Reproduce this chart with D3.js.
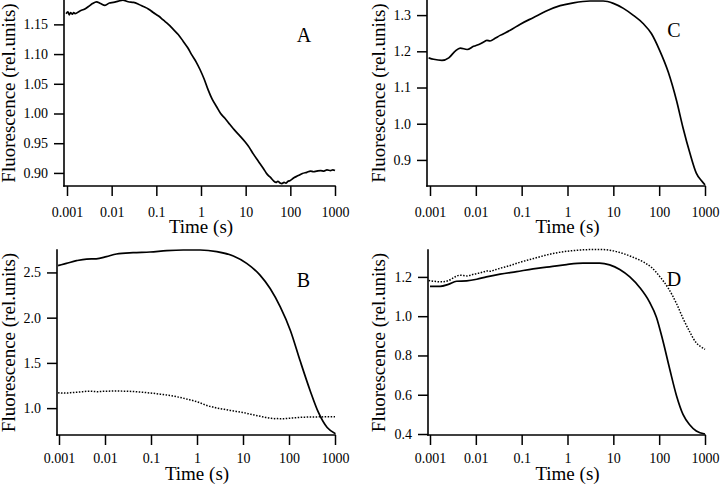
<!DOCTYPE html>
<html><head><meta charset="utf-8">
<script src="https://cdn.jsdelivr.net/npm/d3@7"></script>
</head><body style="margin:0">
<svg id="chart" width="720" height="488" font-family="Liberation Serif"></svg>
<script>
// ---- data (time given as log10 of seconds) ----
const xTicks = [0.001, 0.01, 0.1, 1, 10, 100, 1000];
const xTickLabels = ["0.001", "0.01", "0.1", "1", "10", "100", "1000"];

const yTicksA = [0.90, 0.95, 1.00, 1.05, 1.10, 1.15];
const yTicksB = [1.0, 1.5, 2.0, 2.5];
const yTicksC = [0.9, 1.0, 1.1, 1.2, 1.3];
const yTicksD = [0.4, 0.6, 0.8, 1.0, 1.2];

// Trace A (also dotted trace in B)
const logTimeA = [-3.02,-2.98,-2.95,-2.92,-2.88,-2.85,-2.82,-2.71,-2.60,-2.52,-2.43,-2.34,-2.25,-2.15,-2.05,-1.96,-1.85,-1.75,-1.63,-1.51,-1.40,-1.29,-1.18,-1.07,-0.95,-0.84,-0.73,-0.62,-0.51,-0.40,-0.30,-0.21,-0.11,-0.02,0.07,0.16,0.25,0.35,0.44,0.54,0.63,0.72,0.85,0.99,1.08,1.17,1.28,1.40,1.46,1.51,1.56,1.62,1.68,1.72,1.77,1.81,1.86,1.90,1.95,1.99,2.08,2.18,2.27,2.37,2.45,2.52,2.59,2.68,2.75,2.82,2.90,2.95,3.0];
const fluorA = [1.168,1.171,1.166,1.170,1.167,1.170,1.168,1.1726,1.176,1.180,1.185,1.188,1.185,1.182,1.186,1.187,1.189,1.1907,1.188,1.187,1.184,1.180,1.176,1.170,1.164,1.157,1.150,1.1415,1.133,1.1217,1.111,1.099,1.087,1.0736,1.058,1.0397,1.024,1.0114,1.000,0.9916,0.983,0.9747,0.964,0.952,0.943,0.932,0.920,0.907,0.900,0.8955,0.892,0.887,0.884,0.886,0.883,0.882,0.884,0.883,0.886,0.887,0.892,0.8955,0.899,0.901,0.903,0.902,0.903,0.904,0.903,0.905,0.904,0.905,0.904];

// Trace B (solid)
const logTimeB = [-3.02,-2.95,-2.84,-2.62,-2.40,-2.19,-1.97,-1.75,-1.39,-1.02,-0.66,-0.30,0.07,0.43,0.79,1.08,1.37,1.59,1.81,2.03,2.24,2.46,2.64,2.83,3.01];
const fluorB = [2.575,2.585,2.60,2.63,2.648,2.650,2.674,2.704,2.719,2.726,2.741,2.748,2.748,2.73,2.681,2.60,2.47,2.322,2.119,1.859,1.526,1.193,0.952,0.785,0.718];

// Trace C (also dotted trace in D)
const logTimeC = [-3.03,-2.92,-2.74,-2.59,-2.45,-2.34,-2.19,-2.05,-1.90,-1.80,-1.76,-1.69,-1.58,-1.47,-1.25,-1.03,-0.74,-0.45,-0.16,0.13,0.49,0.78,1.0,1.22,1.43,1.65,1.83,2.01,2.20,2.38,2.52,2.67,2.81,2.92,3.0];
const fluorC = [1.182,1.178,1.175,1.182,1.2007,1.209,1.205,1.2137,1.221,1.228,1.2304,1.2285,1.236,1.244,1.258,1.275,1.2935,1.312,1.326,1.334,1.339,1.339,1.3325,1.3186,1.30,1.2768,1.249,1.2026,1.142,1.0633,0.989,0.919,0.8638,0.843,0.8313];

// Trace D (solid)
const logTimeD = [-3.0,-2.78,-2.60,-2.42,-2.20,-1.98,-1.77,-1.47,-1.11,-0.75,-0.39,-0.02,0.34,0.70,0.92,1.14,1.36,1.58,1.79,1.94,2.08,2.23,2.38,2.52,2.67,2.81,3.0];
const fluorD = [1.152,1.152,1.162,1.178,1.18,1.188,1.20,1.214,1.227,1.241,1.251,1.263,1.27,1.27,1.261,1.238,1.20,1.145,1.072,0.995,0.876,0.731,0.594,0.50,0.446,0.415,0.40];

// ---- layout ----
const FONT = "Liberation Serif";
const panels = [
  {letter:"A", ax:64, top:0, bottom:186, x0:67, x1:335, yDomain:[0.878,1.191], yTicks:yTicksA, fmt:".2f",
   series:[{t:logTimeA, v:fluorA, dotted:false}], letterX:304, letterY:42, titleX:15, xPad:11, timeY:233},
  {letter:"C", ax:427, top:0, bottom:186, x0:430, x1:705, yDomain:[0.828,1.3417], yTicks:yTicksC, fmt:".1f",
   series:[{t:logTimeC, v:fluorC, dotted:false}], letterX:674, letterY:37, titleX:385, xPad:11, timeY:233},
  {letter:"B", ax:57, top:250, bottom:435, x0:59, x1:335, yDomain:[0.703,2.748], yTicks:yTicksB, fmt:".1f",
   series:[{t:logTimeB, v:fluorB, dotted:false},{t:logTimeA, v:fluorA, dotted:true}], letterX:303.5, letterY:286.5, titleX:15, xPad:8, timeY:480},
  {letter:"D", ax:428, top:250, bottom:435, x0:430, x1:705, yDomain:[0.395,1.337], yTicks:yTicksD, fmt:".1f",
   series:[{t:logTimeD, v:fluorD, dotted:false},{t:logTimeC, v:fluorC, dotted:true}], letterX:674, letterY:286, titleX:385, xPad:8, timeY:480}
];

const svg = d3.select("#chart");
svg.append("rect").attr("width",720).attr("height",488).attr("fill","#fff");

panels.forEach(p => {
  const g = svg.append("g").attr("font-family", FONT);
  const x = d3.scaleLog().domain([0.001, 1000]).range([p.x0, p.x1]);
  const y = d3.scaleLinear().domain(p.yDomain).range([p.bottom, p.top]);

  p.series.forEach(s => {
    const pts = s.t.map((t, i) => [Math.pow(10, t), s.v[i]]);
    g.append("path")
      .datum(pts)
      .attr("fill", "none")
      .attr("stroke", "#000")
      .attr("stroke-width", s.dotted ? 1.5 : 1.7)
      .attr("stroke-dasharray", s.dotted ? "1.5,1.5" : null)
      .attr("stroke-linejoin", "round")
      .attr("d", d3.line().x(d => x(d[0])).y(d => y(d[1])).curve(d3.curveMonotoneX));
  });

  const xa = g.append("g").attr("transform", `translate(0,${p.bottom})`)
    .call(d3.axisBottom(x).tickValues(xTicks).tickFormat((d, i) => xTickLabels[i])
      .tickSize(10).tickSizeOuter(0).tickPadding(p.xPad));
  xa.attr("font-family", FONT).attr("font-size", 14);
  xa.select(".domain").remove();
  xa.selectAll(".tick line").attr("stroke", "#000").attr("stroke-width", 1.5);
  xa.selectAll(".tick text").attr("fill", "#000").attr("font-family", FONT).attr("font-size", 14);

  const ya = g.append("g").attr("transform", `translate(${p.ax},0)`)
    .call(d3.axisLeft(y).tickValues(p.yTicks).tickFormat(d3.format(p.fmt))
      .tickSize(10).tickSizeOuter(0).tickPadding(6));
  ya.attr("font-family", FONT).attr("font-size", 14);
  ya.select(".domain").remove();
  ya.selectAll(".tick line").attr("stroke", "#000").attr("stroke-width", 1.5);
  ya.selectAll(".tick text").attr("fill", "#000").attr("font-family", FONT).attr("font-size", 14);

  g.append("line").attr("x1", p.ax).attr("x2", p.ax).attr("y1", p.top).attr("y2", p.bottom)
    .attr("stroke", "#000").attr("stroke-width", 1.6).attr("stroke-linecap", "square");
  g.append("line").attr("x1", p.ax).attr("x2", p.x1).attr("y1", p.bottom).attr("y2", p.bottom)
    .attr("stroke", "#000").attr("stroke-width", 1.6).attr("stroke-linecap", "square");

  g.append("text").attr("x", (p.x0 + p.x1) / 2).attr("y", p.timeY)
    .attr("text-anchor", "middle").attr("font-family", FONT).attr("font-size", 19).text("Time (s)");
  g.append("text")
    .attr("transform", `translate(${p.titleX},${(p.top + p.bottom) / 2}) rotate(-90)`)
    .attr("text-anchor", "middle").attr("font-family", FONT).attr("font-size", 19).text("Fluorescence (rel.units)");
  g.append("text").attr("x", p.letterX).attr("y", p.letterY)
    .attr("text-anchor", "middle").attr("font-family", FONT).attr("font-size", 20).text(p.letter);
});
</script>
</body></html>
